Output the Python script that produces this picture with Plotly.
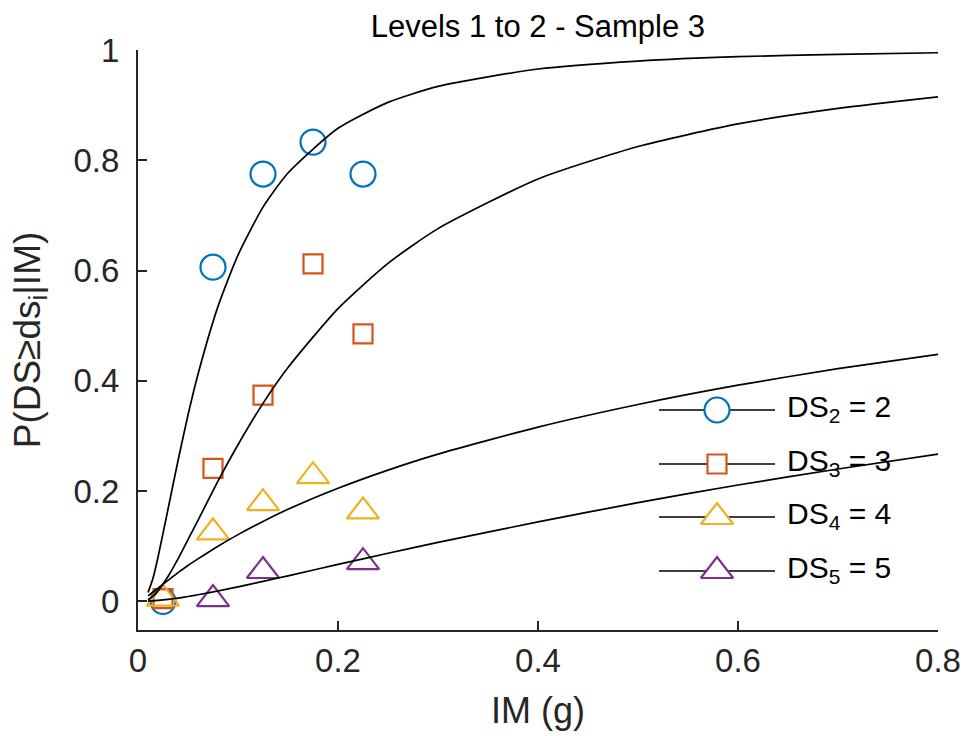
import plotly.graph_objects as go

# Observed data points
im_points = [0.025, 0.075, 0.125, 0.175, 0.225]
ds2_obs = [0.0, 0.606, 0.775, 0.833, 0.775]
ds3_obs = [0.005, 0.241, 0.374, 0.612, 0.485]
ds4_obs = [0.005, 0.125, 0.178, 0.227, 0.163]
ds5_obs = [None, 0.004, 0.055, None, 0.071]

# Fitted fragility curves
im_curve = [0.01, 0.015, 0.02, 0.03, 0.04, 0.05, 0.06, 0.08, 0.10, 0.125, 0.15,
            0.20, 0.25, 0.30, 0.40, 0.50, 0.60, 0.70, 0.80]
ds2_fit = [0.016, 0.042, 0.080, 0.167, 0.255, 0.338, 0.412, 0.535, 0.628, 0.715, 0.777,
           0.858, 0.905, 0.934, 0.9655, 0.980, 0.988, 0.992, 0.995]
ds3_fit = [0.003, 0.009, 0.019, 0.045, 0.077, 0.112, 0.147, 0.218, 0.284, 0.359, 0.424,
           0.531, 0.613, 0.676, 0.766, 0.825, 0.866, 0.894, 0.915]
ds4_fit = [0.010, 0.017, 0.024, 0.038, 0.052, 0.065, 0.077, 0.100, 0.121, 0.145, 0.167,
           0.205, 0.238, 0.267, 0.316, 0.357, 0.392, 0.422, 0.448]
ds5_fit = [0.0003, 0.0008, 0.0016, 0.0035, 0.0059, 0.0087, 0.0119, 0.0188, 0.0263, 0.0362, 0.0463,
           0.0669, 0.0872, 0.107, 0.144, 0.179, 0.211, 0.240, 0.267]

labels = ["DS<sub>2</sub> = 2", "DS<sub>3</sub> = 3", "DS<sub>4</sub> = 4", "DS<sub>5</sub> = 5"]
colors = ["#0072BD", "#D95319", "#EDB120", "#7E2F8E"]
symbols = ["circle-open", "square-open", "triangle-up-open", "triangle-up-open"]
leg_symbols = ["circle", "square", "triangle-up", "triangle-up"]
sizes = [25, 19, 28, 28]

obs = [ds2_obs, ds3_obs, ds4_obs, ds5_obs]
fits = [ds2_fit, ds3_fit, ds4_fit, ds5_fit]

# Legend layout (in pixel units of an overlay axis)
leg_line_x = [659, 775]
leg_marker_x = 717
leg_rows_y = [410, 464, 517, 571]
leg_text_x = 785

FONT = "Liberation Sans, Arial, sans-serif"
fig = go.Figure()

for i in range(4):
    fig.add_trace(go.Scatter(
        x=im_points, y=obs[i], mode="markers", showlegend=False,
        marker=dict(symbol=symbols[i], size=sizes[i], color=colors[i],
                    line=dict(width=2.2, color=colors[i])),
        cliponaxis=False))

for i in range(4):
    fig.add_trace(go.Scatter(
        x=im_curve, y=fits[i], mode="lines", showlegend=False,
        line=dict(color="black", width=1.7, shape="spline", smoothing=0.6)))

# Manual legend: line segments with markers, on an overlay pixel axis
for i in range(4):
    fig.add_trace(go.Scatter(
        x=leg_line_x, y=[leg_rows_y[i]] * 2, mode="lines", showlegend=False,
        xaxis="x2", yaxis="y2", line=dict(color="black", width=1.7),
        hoverinfo="skip"))
    fig.add_trace(go.Scatter(
        x=[leg_marker_x], y=[leg_rows_y[i]], mode="markers", showlegend=False,
        xaxis="x2", yaxis="y2", hoverinfo="skip",
        marker=dict(symbol=leg_symbols[i], size=sizes[i], color="white",
                    line=dict(width=2.2, color=colors[i]))))
    fig.add_annotation(
        x=leg_text_x, y=leg_rows_y[i] - 2, xref="x2", yref="y2",
        text=labels[i], showarrow=False, xanchor="left", yanchor="middle",
        font=dict(size=30, color="black", family=FONT))

fig.update_layout(
    width=964, height=736,
    margin=dict(l=138, r=26, t=50, b=106, autoexpand=False),
    plot_bgcolor="white", paper_bgcolor="white",
    font=dict(family=FONT, color="#262626"),
    title=dict(text="Levels 1 to 2 - Sample 3", x=0.558, xanchor="center",
               y=0.965, yanchor="middle",
               font=dict(size=31, color="black", family=FONT)),
    showlegend=False,
    xaxis2=dict(overlaying="x", range=[138, 938], visible=False, fixedrange=True),
    yaxis2=dict(overlaying="y", range=[630, 50], visible=False, fixedrange=True),
)

fig.update_layout(yaxis=dict(
    range=[-0.052, 1.0], tickvals=[0, 0.2, 0.4, 0.6, 0.8, 1.0],
    ticktext=["0", "0.2", "0.4", "0.6", "0.8", "1"],
    showline=True, linecolor="#262626", linewidth=2,
    ticks="inside", ticklen=9, tickwidth=2, tickcolor="#262626",
    showgrid=False, zeroline=False, mirror=False, automargin=False,
    tickfont=dict(size=33, color="#262626"), ticklabelstandoff=10,
    title=dict(text="P(DS≥ds<sub>i</sub>|IM)", font=dict(size=37, color="#262626"), standoff=22),
))
fig.update_layout(xaxis=dict(
    range=[0, 0.8], tickvals=[0, 0.2, 0.4, 0.6, 0.8],
    ticktext=["0", "0.2", "0.4", "0.6", "0.8"],
    showline=True, linecolor="#262626", linewidth=2,
    ticks="inside", ticklen=9, tickwidth=2, tickcolor="#262626",
    showgrid=False, zeroline=False, mirror=False, automargin=False,
    tickfont=dict(size=33, color="#262626"),
    title=dict(text="IM (g)", font=dict(size=36, color="#262626"), standoff=20),
))

fig.write_html("out.html")
